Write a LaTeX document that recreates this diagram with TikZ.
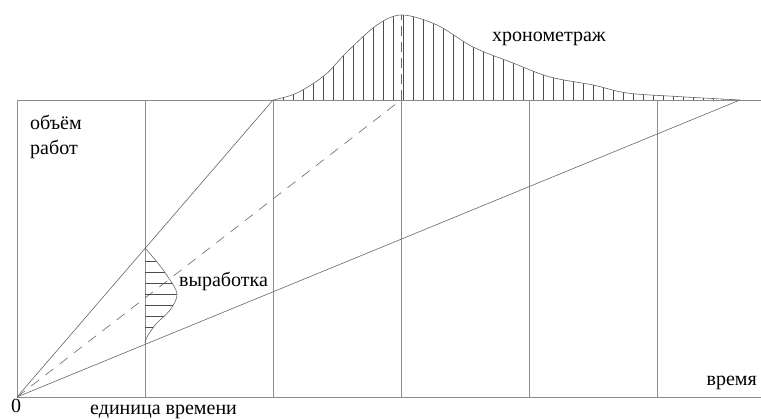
\documentclass[tikz,border=0pt]{standalone}
\usepackage{fontspec}
\setmainfont{Liberation Serif}
\newfontfamily\serfont{Liberation Serif}
\begin{document}
\begin{tikzpicture}[x=1pt,y=-1pt,
  frame/.style={draw=black!45, line width=0.8pt},
  diag/.style={draw=black!60, line width=0.6pt},
  hatch/.style={draw=black!70, line width=0.5pt},
  lbl/.style={font=\serfont\fontsize{20}{24}\selectfont, inner sep=0pt, anchor=base west}]
\useasboundingbox (0,0) rectangle (761,419);
% named points
\coordinate (O) at (17,397);
\coordinate (BR) at (761,397);
\coordinate (TL) at (17,100);
\coordinate (TR) at (761,100);
\coordinate (A) at (273,100);
\coordinate (M) at (401,100);
\coordinate (E) at (740,100);
\coordinate (P) at (401,15);
% frame
\draw[frame] (TL) -- (TR);
\draw[frame] (O) -- (BR);
\foreach \x in {17,145,273,401,529,657}
  \draw[frame] (\x,100) -- (\x,397);
% diagonals
\draw[diag] (O) -- (A);
\draw[diag] (O) -- (E);
\draw[diag, dash pattern=on 10pt off 8pt] (O) -- (M);
\draw[diag, dash pattern=on 10pt off 6pt] (M) -- (P);
% upper curve (timing)
\begin{scope}
\clip plot[smooth, tension=0.55] coordinates {(273,100) (297,93) (325,75) (347,52) (377,25) (402,15) (437,25) (473,47) (513,63) (550,77) (593,85) (627,93) (677,96.5) (740,100)} -- cycle;
\foreach \x in {283,293,...,733}
  \draw[hatch] (\x,100) -- (\x,0);
\end{scope}
\draw[diag] plot[smooth, tension=0.55] coordinates {(273,100) (297,93) (325,75) (347,52) (377,25) (402,15) (437,25) (473,47) (513,63) (550,77) (593,85) (627,93) (677,96.5) (740,100)};
% lower bell (output)
\begin{scope}
\clip plot[smooth, tension=0.6] coordinates {(145,248) (157,262) (168,277) (177,294) (170,310) (156,324) (147,337) (145,343)} -- cycle;
\foreach \y in {261,272,...,330}
  \draw[hatch] (145,\y) -- (190,\y);
\end{scope}
\draw[diag] plot[smooth, tension=0.6] coordinates {(145,248) (157,262) (168,277) (177,294) (170,310) (156,324) (147,337) (145,343)};
% labels
\node[lbl] (l1) at (30,130) {объём};
\node[lbl] (l2) at (30,155) {работ};
\node[lbl] (l3) at (179,287) {выработка};
\node[lbl] (l4) at (492,42) {хронометраж};
\node[lbl, anchor=base east] (l5) at (757,386) {время};
\node[lbl] (l6) at (11,413) {0};
\node[lbl] (l7) at (90,415) {единица времени};
\end{tikzpicture}
\end{document}
